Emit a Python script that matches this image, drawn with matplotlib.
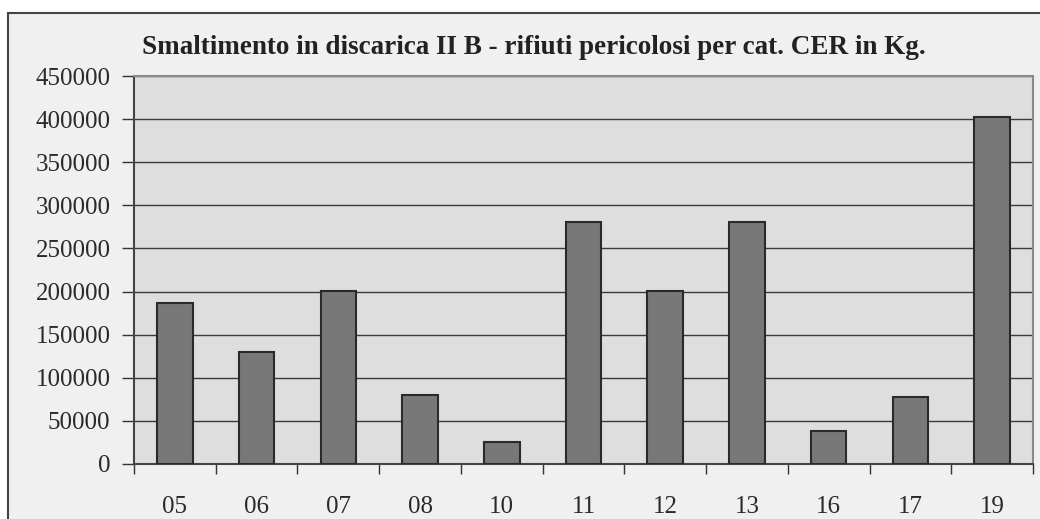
import matplotlib.pyplot as plt
import numpy as np
from matplotlib.patches import Rectangle

# Smaltimento in discarica II B - rifiuti pericolosi per categoria CER (Kg)
categorie = ['05', '06', '07', '08', '10', '11', '12', '13', '16', '17', '19']
quantita_kg = [187000, 129500, 200500, 80000, 25000, 280500, 200500, 280500, 38500, 78000, 403000]
y_ticks = [0, 50000, 100000, 150000, 200000, 250000, 300000, 350000, 400000, 450000]

plt.rcParams['font.family'] = ['Liberation Serif', 'DejaVu Serif']

fig = plt.figure(figsize=(10.4, 5.19), dpi=100)
fig.patch.set_facecolor('white')

# cornice esterna del grafico (stile Excel)
cornice = Rectangle((8 / 1040, -0.05), 1.1, 0.05 + (519 - 13) / 519,
                    transform=fig.transFigure, facecolor='#f0f0f0',
                    edgecolor='#444444', linewidth=1.5, zorder=-10)
fig.patches.append(cornice)

ax = fig.add_axes([134 / 1040, (519 - 464) / 519, (1033 - 134) / 1040, (464 - 76) / 519])
ax.set_facecolor('#dedede')

x = np.arange(len(categorie))
ax.bar(x, quantita_kg, width=0.435, color='#787878', edgecolor='#2a2a2a',
       linewidth=1.5, zorder=3)

ax.set_xlim(-0.5, len(categorie) - 0.5)
ax.set_ylim(0, 450000)
ax.set_yticks(y_ticks)
ax.set_yticklabels([str(v) for v in y_ticks])
ax.yaxis.grid(True, color='#3a3a3a', linewidth=1.0, zorder=1)
ax.set_axisbelow(True)

# etichette al centro delle categorie, tacche sui confini
ax.set_xticks(x)
ax.set_xticklabels(categorie)
ax.set_xticks(np.arange(-0.5, len(categorie)), minor=True)
ax.tick_params(axis='x', which='major', length=0, pad=23, labelsize=18, labelcolor='#2a2a2a')
ax.tick_params(axis='x', which='minor', length=7, width=1.0, color='#333333', direction='out')
ax.tick_params(axis='y', length=9, width=1.0, color='#333333', pad=8,
               labelsize=18, labelcolor='#2a2a2a')

for lato in ['top', 'right']:
    ax.spines[lato].set_color('#8a8a8a')
    ax.spines[lato].set_linewidth(1.5)
for lato in ['left', 'bottom']:
    ax.spines[lato].set_color('#444444')
    ax.spines[lato].set_linewidth(1.5)

fig.text(533.5 / 1040, (519 - 48) / 519,
         'Smaltimento in discarica II B - rifiuti pericolosi per cat. CER in Kg.',
         ha='center', va='center', fontsize=19.5, fontweight='bold', color='#222222')

fig.savefig('out.png', dpi=100)
